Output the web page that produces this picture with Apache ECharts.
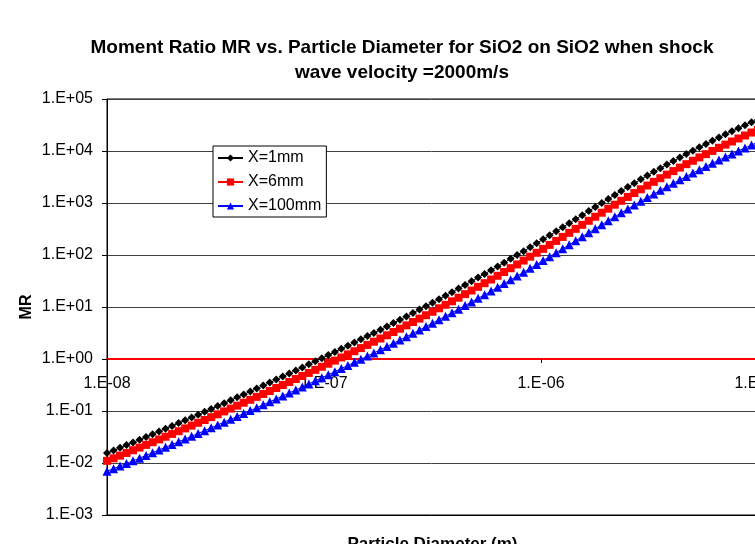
<!DOCTYPE html>
<html>
<head>
<meta charset="utf-8">
<script src="https://cdn.jsdelivr.net/npm/echarts@6/dist/echarts.min.js"></script>
<style>
  html, body { margin: 0; padding: 0; background: #fff; }
  #chart { width: 755px; height: 544px; }
</style>
</head>
<body>
<div id="chart"></div>
<script>
// Particle diameter (m), log-spaced
const diameters = [
  1.000e-8,1.072e-8,1.148e-8,1.230e-8,1.318e-8,1.413e-8,1.514e-8,1.622e-8,1.738e-8,1.862e-8,
  1.995e-8,2.138e-8,2.291e-8,2.455e-8,2.630e-8,2.818e-8,3.020e-8,3.236e-8,3.467e-8,3.715e-8,
  3.981e-8,4.266e-8,4.571e-8,4.898e-8,5.248e-8,5.623e-8,6.026e-8,6.457e-8,6.918e-8,7.413e-8,
  7.943e-8,8.511e-8,9.120e-8,9.772e-8,1.047e-7,1.122e-7,1.202e-7,1.288e-7,1.380e-7,1.479e-7,
  1.585e-7,1.698e-7,1.820e-7,1.950e-7,2.089e-7,2.239e-7,2.399e-7,2.570e-7,2.754e-7,2.951e-7,
  3.162e-7,3.388e-7,3.631e-7,3.890e-7,4.169e-7,4.467e-7,4.786e-7,5.129e-7,5.495e-7,5.888e-7,
  6.310e-7,6.761e-7,7.244e-7,7.762e-7,8.318e-7,8.913e-7,9.550e-7,1.023e-6,1.096e-6,1.175e-6,
  1.259e-6,1.349e-6,1.445e-6,1.549e-6,1.660e-6,1.778e-6,1.905e-6,2.042e-6,2.188e-6,2.344e-6,
  2.512e-6,2.692e-6,2.884e-6,3.090e-6,3.311e-6,3.548e-6,3.802e-6,4.074e-6,4.365e-6,4.677e-6,
  5.012e-6,5.370e-6,5.754e-6,6.166e-6,6.607e-6,7.079e-6,7.586e-6,8.128e-6,8.710e-6,9.333e-6,
  1.000e-5
];

// Moment ratio MR at X = 1 mm
const mr1mm = [
  0.0155,0.0174,0.0196,0.0221,0.0249,0.0281,0.0317,0.0358,0.0404,0.0457,
  0.0517,0.0585,0.0662,0.0750,0.0851,0.0965,0.1095,0.1244,0.1415,0.1608,
  0.1830,0.2084,0.2374,0.2707,0.3087,0.3523,0.4024,0.4600,0.5259,0.6017,
  0.6889,0.789,0.9045,1.037,1.190,1.367,1.571,1.806,2.077,2.391,
  2.754,3.175,3.665,4.236,4.903,5.680,6.591,7.655,8.904,10.37,
  12.09,14.12,16.51,19.32,22.64,26.57,31.21,36.73,43.26,51.03,
  60.25,71.25,84.35,100.0,118.7,141.1,167.9,200.0,238.6,284.9,
  340.8,407.9,488.1,584.1,699.0,836.6,1001,1198,1431,1706,
  2028,2407,2849,3366,3968,4667,5477,6413,7492,8733,
  10160,11790,13650,15780,18180,20910,24010,27490,31410,35810,
  40740
];

// Moment ratio MR at X = 6 mm
const mr6mm = [
  0.0110,0.0123,0.01385,0.0156,0.0176,0.0198,0.0223,0.0251,0.0284,0.0320,
  0.0362,0.0409,0.0463,0.0524,0.0593,0.0672,0.0762,0.0864,0.0982,0.1115,
  0.1267,0.1442,0.1641,0.1869,0.2128,0.2427,0.2769,0.3161,0.3610,0.4126,
  0.4718,0.5398,0.6181,0.7079,0.8113,0.9311,1.069,1.227,1.410,1.621,
  1.865,2.148,2.476,2.859,3.305,3.825,4.433,5.143,5.975,6.951,
  8.094,9.442,11.03,12.89,15.09,17.69,20.75,24.39,28.69,33.81,
  39.87,47.10,55.70,65.95,78.19,92.84,110.3,131.3,156.4,186.6,
  222.9,266.5,318.5,380.7,455.0,544.0,650.1,777.1,927.1,1104,
  1311,1554,1837,2168,2553,2999,3515,4111,4796,5585,
  6488,7521,8698,10040,11560,13280,15220,17410,19870,22620,
  25710
];

// Moment ratio MR at X = 100 mm
const mr100mm = [
  0.00692,0.00777,0.00872,0.00981,0.0110,0.0124,0.0140,0.0158,0.0178,0.0201,
  0.0226,0.0256,0.0289,0.0327,0.0370,0.0419,0.0474,0.0538,0.0611,0.0693,
  0.0787,0.0894,0.1017,0.1157,0.1317,0.1500,0.1710,0.1951,0.2226,0.2542,
  0.2904,0.3320,0.3799,0.4346,0.4978,0.5706,0.6545,0.7509,0.8617,0.9901,
  1.138,1.309,1.509,1.740,2.010,2.324,2.690,3.119,3.620,4.207,
  4.895,5.706,6.657,7.774,9.092,10.65,12.48,14.66,17.23,20.28,
  23.89,28.19,33.31,39.40,46.67,55.37,65.73,78.14,93.01,110.8,
  132.3,158.0,188.7,225.3,269.0,321.3,383.6,458.0,545.9,649.3,
  770.2,912.3,1077,1270,1494,1753,2053,2398,2795,3251,
  3774,4369,5048,5823,6692,7680,8797,10050,11460,13030,
  14790
];

const seriesNames = ['X=1mm', 'X=6mm', 'X=100mm'];

// Tick labels, indexed by decade exponent
const xTickLabels = { '-8': '1.E-08', '-7': '1.E-07', '-6': '1.E-06', '-5': '1.E-05' };
const yTickLabels = {
  '-3': '1.E-03', '-2': '1.E-02', '-1': '1.E-01', '0': '1.E+00',
  '1': '1.E+01', '2': '1.E+02', '3': '1.E+03', '4': '1.E+04', '5': '1.E+05'
};

const FONT = '"Liberation Sans", Arial, sans-serif';
const decade = v => String(Math.round(Math.log10(v)));

function pairs(ys) {
  return diameters.map((d, i) => [d, ys[i]]);
}

const chart = echarts.init(document.getElementById('chart'), null, { renderer: 'canvas' });

chart.setOption({
  animation: false,
  backgroundColor: '#fff',
  graphic: [{
    type: 'text',
    x: 402,
    y: 35,
    style: {
      text: 'Moment Ratio MR vs. Particle Diameter for SiO2 on SiO2 when shock\nwave velocity =2000m/s',
      font: 'bold 19px ' + FONT,
      fill: '#000',
      textAlign: 'center',
      textVerticalAlign: 'top',
      lineHeight: 25
    }
  }],
  grid: {
    left: 107,
    top: 99,
    width: 651,
    height: 416,
    outerBoundsMode: 'none',
    containLabel: false,
    show: true,
    borderColor: '#000',
    borderWidth: 1,
    backgroundColor: 'transparent'
  },
  legend: {
    orient: 'vertical',
    left: 213,
    top: 146,
    padding: [4, 5, 3, 4],
    itemGap: 8,
    itemWidth: 25,
    itemHeight: 9,
    backgroundColor: '#fff',
    borderColor: '#000',
    borderWidth: 1,
    borderRadius: 0,
    textStyle: { fontFamily: FONT, fontSize: 16, color: '#000', lineHeight: 16 },
    data: seriesNames
  },
  xAxis: [{
    type: 'log',
    logBase: 10,
    min: 1e-8,
    max: 1e-5,
    position: 'bottom',
    name: 'Particle Diameter (m)',
    nameLocation: 'middle',
    nameGap: 21,
    nameMoveOverlap: false,
    nameTextStyle: { fontFamily: FONT, fontSize: 17, fontWeight: 'bold', color: '#000', verticalAlign: 'top' },
    axisLine: { show: true, onZero: false, lineStyle: { color: '#000', width: 1 } },
    axisTick: { show: false },
    axisLabel: { show: false },
    splitLine: { show: false },
    minorTick: { show: false }
  }, {
    // Horizontal axis crossing at MR = 1, carrying the diameter labels
    type: 'log',
    logBase: 10,
    min: 1e-8,
    max: 1e-5,
    position: 'bottom',
    offset: -156,
    axisLine: { show: true, onZero: false, lineStyle: { color: '#ff0000', width: 2 } },
    axisTick: { show: true, inside: false, length: 4, lineStyle: { color: '#000', width: 1 } },
    axisLabel: {
      show: true,
      margin: 17,
      fontFamily: FONT,
      fontSize: 16,
      color: '#000',
      hideOverlap: false,
      formatter: v => xTickLabels[decade(v)] || ''
    },
    splitLine: { show: false }
  }],
  yAxis: {
    type: 'log',
    logBase: 10,
    min: 1e-3,
    max: 1e5,
    name: 'MR',
    nameLocation: 'middle',
    nameGap: 72,
    nameMoveOverlap: false,
    nameTextStyle: { fontFamily: FONT, fontSize: 16, fontWeight: 'bold', color: '#000' },
    axisLine: { show: true, onZero: false, lineStyle: { color: '#000', width: 1 } },
    axisTick: { show: true, inside: false, length: 5, lineStyle: { color: '#000' } },
    axisLabel: {
      margin: 14,
      padding: [3, 0, 0, 0],
      fontFamily: FONT,
      fontSize: 16,
      color: '#000',
      formatter: v => yTickLabels[decade(v)] || ''
    },
    splitLine: { show: true, lineStyle: { color: '#404040', width: 1 } },
    minorTick: { show: false }
  },
  series: [{
    name: seriesNames[0],
    type: 'line',
    data: pairs(mr1mm),
    symbol: 'diamond',
    symbolSize: 8,
    showAllSymbol: true,
    lineStyle: { color: '#000', width: 1 },
    itemStyle: { color: '#000' },
    z: 3
  }, {
    name: seriesNames[1],
    type: 'line',
    data: pairs(mr6mm),
    symbol: 'rect',
    symbolSize: 8,
    showAllSymbol: true,
    lineStyle: { color: '#ff0000', width: 1 },
    itemStyle: { color: '#ff0000' },
    z: 4
  }, {
    name: seriesNames[2],
    type: 'line',
    data: pairs(mr100mm),
    symbol: 'triangle',
    symbolSize: 9,
    showAllSymbol: true,
    lineStyle: { color: '#0000ff', width: 1 },
    itemStyle: { color: '#0000ff' },
    z: 5
  }]
});
</script>
</body>
</html>
